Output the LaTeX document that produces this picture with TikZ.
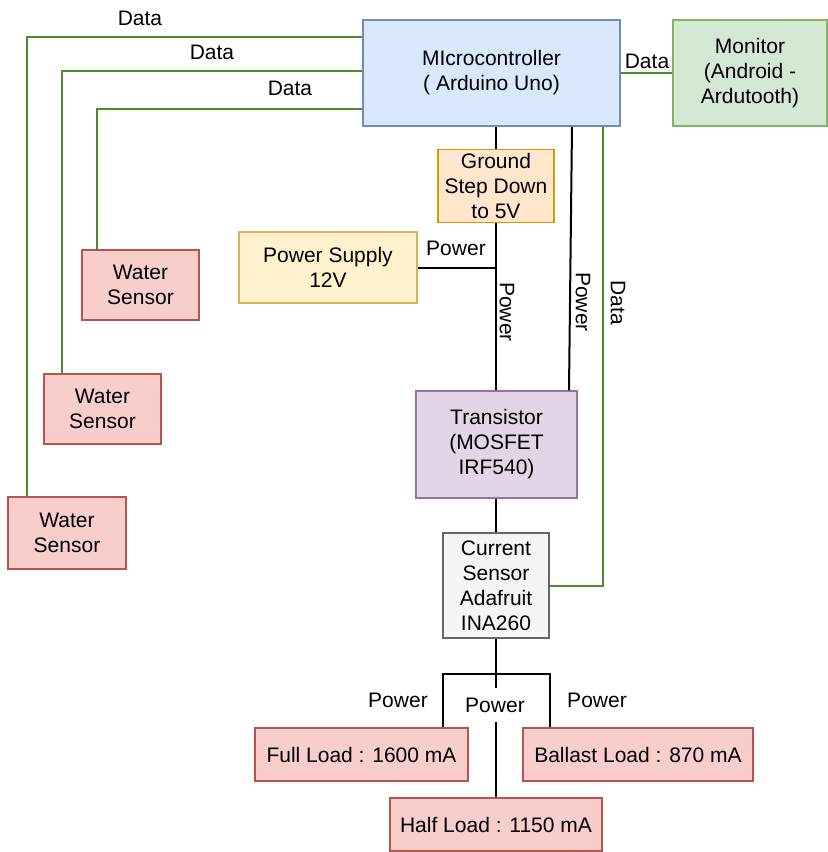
\documentclass[tikz,border=0pt]{standalone}
\usepackage{fontspec}
\setmainfont{Liberation Sans}
\definecolor{blueF}{HTML}{DAE8FC}\definecolor{blueS}{HTML}{6C8EBF}
\definecolor{greenF}{HTML}{D5E8D4}\definecolor{greenS}{HTML}{82B366}
\definecolor{orangeF}{HTML}{FFE6CC}\definecolor{orangeS}{HTML}{D79B00}
\definecolor{yellowF}{HTML}{FFF2CC}\definecolor{yellowS}{HTML}{D6B656}
\definecolor{redF}{HTML}{F8CECC}\definecolor{redS}{HTML}{B85450}
\definecolor{purpleF}{HTML}{E1D5E7}\definecolor{purpleS}{HTML}{9673A6}
\definecolor{grayF}{HTML}{F5F5F5}\definecolor{grayS}{HTML}{666666}
\definecolor{wire}{RGB}{77,140,45}
\begin{document}
\begin{tikzpicture}[x=0.5pt,y=-0.5pt,
  every node/.style={font=\fontsize{10.5}{12.5}\selectfont, align=center, inner sep=1pt},
  box/.style={draw, line width=0.75pt, rectangle, inner sep=2pt},
  bluebox/.style={box, fill=blueF, draw=blueS},
  greenbox/.style={box, fill=greenF, draw=greenS},
  orangebox/.style={box, fill=orangeF, draw=orangeS},
  yellowbox/.style={box, fill=yellowF, draw=yellowS},
  redbox/.style={box, fill=redF, draw=redS},
  purplebox/.style={box, fill=purpleF, draw=purpleS},
  graybox/.style={box, fill=grayF, draw=grayS},
  pline/.style={draw=black, line width=1pt},
  dline/.style={draw=wire, line width=1pt},
  lbl/.style={inner sep=1pt}
]
\useasboundingbox (0,0) rectangle (827,852);
\fill[white] (0,0) rectangle (827,852);

% nodes
\node[bluebox, minimum width=128.5pt, minimum height=53pt] (micro) at (491.5,73) {MIcrocontroller\\( Arduino Uno)};
\node[greenbox, minimum width=77pt, minimum height=53pt] (monitor) at (750,73) {Monitor\\(Android -\\Ardutooth)};
\node[orangebox, minimum width=58pt, minimum height=36pt] (ground) at (496,186) {Ground\\Step Down\\to 5V};
\node[yellowbox, minimum width=89pt, minimum height=35.5pt] (psu) at (328,267.5) {Power Supply\\12V};
\node[redbox, minimum width=58.5pt, minimum height=35pt] (ws1) at (140.5,285) {Water\\Sensor};
\node[redbox, minimum width=58.5pt, minimum height=35pt] (ws2) at (102.5,409) {Water\\Sensor};
\node[redbox, minimum width=59pt, minimum height=36pt] (ws3) at (67,533) {Water\\Sensor};
\node[purplebox, minimum width=80.5pt, minimum height=53.5pt] (trans) at (496.5,444.5) {Transistor\\(MOSFET\\IRF540)};
\node[graybox, minimum width=53pt, minimum height=52.5pt] (cur) at (496,585.5) {Current\\Sensor\\Adafruit\\INA260};
\node[redbox, minimum width=106.5pt, minimum height=26.5pt] (full) at (361.5,754.5) {Full Load : 1600 mA};
\node[redbox, minimum width=115pt, minimum height=26.5pt] (ballast) at (638,754.5) {Ballast Load : 870 mA};
\node[redbox, minimum width=106pt, minimum height=26.5pt] (half) at (496,824.5) {Half Load : 1150 mA};

% data lines to sensors
\draw[dline] (micro.west |- 0,37) -| (ws3.north -| 27,0);
\draw[dline] (micro.west |- 0,71) -| (ws2.north -| 62,0);
\draw[dline] (micro.west |- 0,109) -| (ws1.north -| 97,0);
\node[lbl] (d1) at (140,18) {Data};
\node[lbl] (d2) at (212,52) {Data};
\node[lbl] (d3) at (290,88) {Data};

% monitor
\draw[dline] (micro.east) -- (monitor.west);
\node[lbl] (d4) at (647,61) {Data};

% ground / power
\draw[pline] (ground.north |- micro.south) -- (ground.north);
\draw[pline] (ground.south) -- (ground.south |- trans.north);
\draw[pline] (psu.east) -- (ground.south |- psu.east);
\node[lbl] (p1) at (456,248) {Power};
\node[lbl, rotate=-90] (p2) at (507,312) {Power};

\draw[pline] (micro.south -| 572,0) -- (trans.north -| 569,0);
\node[lbl, rotate=-90] (p3) at (583,302) {Power};

\draw[dline] (micro.south -| 603,0) |- (cur.east);
\node[lbl, rotate=-90] (d5) at (618,303) {Data};

\draw[pline] (trans.south -| cur.north) -- (cur.north);

% loads
\coordinate (split) at (496,674);
\draw[pline] (cur.south) -- (half.north);
\draw[pline] (full.north -| 443,0) |- (split) -| (ballast.north -| 550,0);
\node[lbl, fill=white, minimum height=17pt] (p5) at (495,705) {Power};
\node[lbl] (p4) at (398,700) {Power};
\node[lbl] (p6) at (597,700) {Power};
\end{tikzpicture}
\end{document}
